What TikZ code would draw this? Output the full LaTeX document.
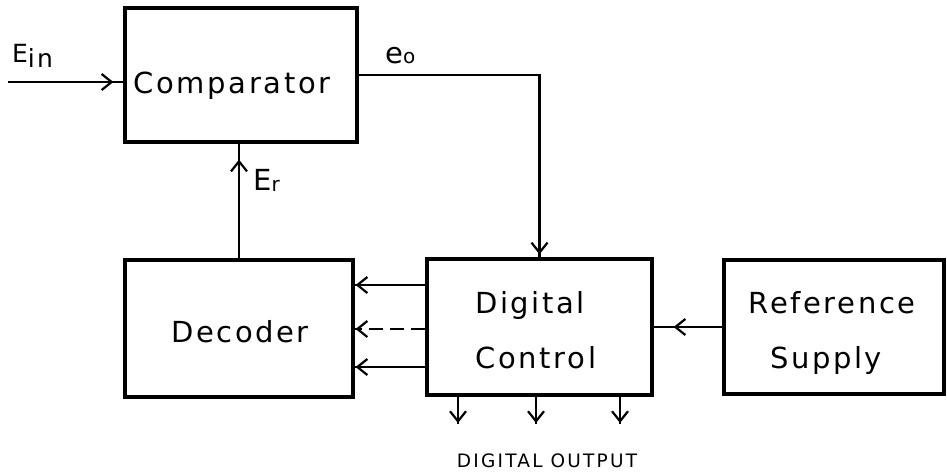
\documentclass[tikz,border=0pt]{standalone}
\usepackage{fontspec}
\setmainfont{DejaVu Sans}[LetterSpace=9]
\newfontfamily\outfont{DejaVu Sans}[LetterSpace=12]
\usetikzlibrary{arrows.meta, decorations.markings}

\tikzset{
  block/.style={draw, line width=3.2pt, inner sep=0pt},
  wire/.style={line width=2.6pt},
  barb/.style={postaction={decorate}, decoration={markings,
      mark=at position -#1 with {\arrow{Straight Barb[length=10pt, width=16pt, line width=2.2pt]}}}},
  lbl/.style={anchor=base, inner sep=0pt, font=\fontsize{29}{34}\selectfont},
  sig/.style={anchor=base west, inner sep=0pt},
}

\begin{document}
\begin{tikzpicture}[x=1pt, y=-1pt]
\useasboundingbox (0,0) rectangle (947,472);

% blocks
\node[block, minimum width=232pt, minimum height=134pt] (comp) at (241,75) {};
\node[block, minimum width=228pt, minimum height=137pt] (dec) at (239,328.5) {};
\node[block, minimum width=225pt, minimum height=136pt] (dc) at (539.5,327) {};
\node[block, minimum width=220pt, minimum height=134pt] (ref) at (834,327) {};

% block texts
\node[lbl] (comptxt) at (232,93) {Comparator};
\node[lbl] (dectxt) at (240,342) {Decoder};
\node[lbl] (dctxt1) at (530,313) {Digital};
\node[lbl] (dctxt2) at (536,368) {Control};
\node[lbl] (reftxt1) at (832,313) {Reference};
\node[lbl] (reftxt2) at (826,368) {Supply};

% input
\coordinate (ein) at (8,82);
\draw[wire, barb=10pt] (ein) -- (comp.west |- ein);
\node[sig, font=\fontsize{25}{30}\selectfont] (einlbl) at (12,62) {E\raisebox{-5pt}{in}};

% error to digital control
\draw[wire, barb=3pt] (comp.east) -| (dc.north);
\node[sig, font=\fontsize{29}{34}\selectfont] (eolbl) at (385,63) {e{\fontsize{20}{20}\selectfont o}};

% decoder feedback
\draw[wire, barb=16pt] (dec.north) -- (dec.north |- comp.south);
\node[sig, font=\fontsize{29}{34}\selectfont] (erlbl) at (253,190) {E{\fontsize{20}{20}\selectfont\raisebox{-1pt}{r}}};

% control lines to decoder
\draw[wire, barb=1pt] (dc.west |- 0,285) -- (dec.east |- 0,285);
\draw[wire, dash pattern=on 14pt off 7pt, barb=1pt] (dc.west |- 0,329) -- (dec.east |- 0,329);
\draw[wire, barb=1pt] (dc.west |- 0,367) -- (dec.east |- 0,367);

% reference supply
\draw[wire, barb=20pt] (ref.west) -- (ref.west -| dc.east);

% digital outputs
\foreach \x/\n in {458/1, 536/2, 620/3} {
  \coordinate (out\n) at (\x,424);
  \draw[wire, barb=1pt] (dc.south -| out\n) -- (out\n);
}
\node[anchor=base, inner sep=0pt, font=\outfont\fontsize{18.5}{22}\selectfont] (outlbl) at (547,467) {DIGITAL\hspace{8pt}OUTPUT};
\end{tikzpicture}
\end{document}
